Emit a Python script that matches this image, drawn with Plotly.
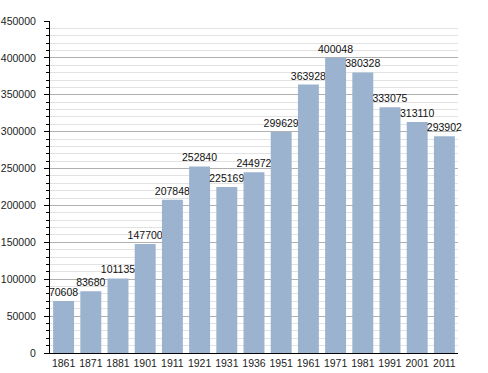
import plotly.graph_objects as go

years = ["1861","1871","1881","1901","1911","1921","1931","1936","1951","1961","1971","1981","1991","2001","2011"]
population = [70608,83680,101135,147700,207848,252840,225169,244972,299629,363928,400048,380328,333075,313110,293902]
y_ticks = [0,50000,100000,150000,200000,250000,300000,350000,400000,450000]

fig = go.Figure()
fig.add_trace(go.Bar(
    x=years, y=population,
    marker=dict(color="#9cb3cf", line=dict(width=0)),
    text=[str(v) for v in population], textposition="outside",
    textfont=dict(family="Liberation Sans, Arial, sans-serif", size=10.5, color="#111"),
    constraintext="none",
    cliponaxis=False, width=0.77,
))
fig.update_layout(
    width=488, height=373,
    margin=dict(l=50, r=30, t=21, b=20),
    plot_bgcolor="white", paper_bgcolor="white",
    showlegend=False,
    font=dict(family="Liberation Sans, Arial, sans-serif", size=10.5, color="#222"),
)
fig.update_xaxes(
    type="category", showgrid=False, showline=True, linecolor="black", linewidth=1,
    ticks="", ticklabelstandoff=0, automargin=False,
)
fig.update_yaxes(
    range=[0,450000], tickvals=y_ticks, ticktext=[str(v) for v in y_ticks],
    showgrid=True, gridcolor="#b0b0b0", gridwidth=1,
    showline=True, linecolor="black", linewidth=1,
    ticks="outside", ticklen=5, tickcolor="black", ticklabelstandoff=6,
    zeroline=False, automargin=False,
    minor=dict(dtick=10000, showgrid=True, gridcolor="#e2e2e2", ticks="outside", ticklen=3, tickcolor="black"),
)
fig.write_html("out.html", config={"displayModeBar": False},
               post_script="document.body.style.margin='0';document.body.style.overflow='hidden';")
